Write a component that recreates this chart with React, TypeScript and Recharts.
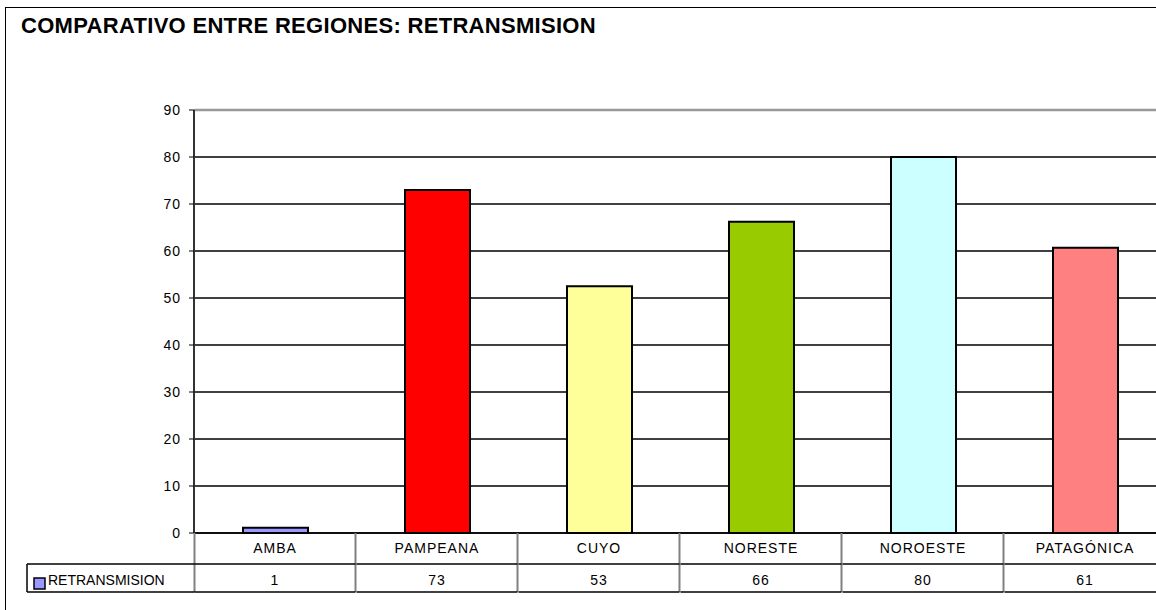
import { Bar, BarChart, CartesianGrid, Cell, ReferenceLine, XAxis, YAxis } from "recharts";

const regions = ["AMBA", "PAMPEANA", "CUYO", "NORESTE", "NOROESTE", "PATAGÓNICA"];
const retransmision = [1.1, 73, 52.5, 66.2, 80, 60.7];
const tableValues = ["1", "73", "53", "66", "80", "61"];
const yTicks = [0, 10, 20, 30, 40, 50, 60, 70, 80, 90];
const colors = ["#9999ff", "#ff0000", "#ffff99", "#99cc00", "#ccffff", "#ff8080"];
const seriesName = "RETRANSMISION";

const data = regions.map((region, i) => ({ region, value: retransmision[i] }));

const font = "'Liberation Sans', Arial, sans-serif";
const BAND = 161;

function TableTick({ x, y, index }: any) {
  const left = x - BAND / 2;
  const right = x + BAND / 2;
  return (
    <g>
      <line x1={right} y1={y} x2={right} y2={y + 59} stroke="#808080" strokeWidth={2} />
      {index === 0 && (
        <g>
          <line x1={left} y1={y} x2={left} y2={y + 59} stroke="#808080" strokeWidth={2} />
          <line x1={27} y1={y + 31} x2={left} y2={y + 31} stroke="#000" strokeWidth={1.5} />
          <line x1={27} y1={y + 59} x2={left} y2={y + 59} stroke="#000" strokeWidth={1.5} />
          <line x1={27} y1={y + 31} x2={27} y2={y + 59} stroke="#000" strokeWidth={1.5} />
          <rect x={34} y={y + 45} width={11} height={11} fill={colors[0]} stroke="#000" strokeWidth={1.5} />
          <text x={48} y={y + 52} fontSize={14} fontFamily={font} fill="#000">
            {seriesName}
          </text>
        </g>
      )}
      <line x1={left} y1={y + 31} x2={right} y2={y + 31} stroke="#000" strokeWidth={1.5} />
      <line x1={left} y1={y + 59} x2={right} y2={y + 59} stroke="#000" strokeWidth={1.5} />
      <text x={x} y={y + 20} textAnchor="middle" fontSize={14} fontFamily={font} letterSpacing={1} fill="#000">
        {regions[index]}
      </text>
      <text x={x} y={y + 52} textAnchor="middle" fontSize={14} fontFamily={font} letterSpacing={1} fill="#000">
        {tableValues[index]}
      </text>
    </g>
  );
}

export default function App() {
  return (
    <div style={{ position: "fixed", left: 0, top: 0, width: 1156, height: 610, overflow: "hidden", background: "#fff" }}>
      <div
        style={{
          position: "absolute",
          left: 5,
          top: 7,
          width: 1200,
          height: 640,
          border: "1.5px solid #000",
        }}
      />
      <div
        style={{
          position: "absolute",
          left: 21,
          top: 13,
          fontFamily: font,
          fontWeight: "bold",
          fontSize: 22,
          letterSpacing: 0.3,
          color: "#000",
          whiteSpace: "nowrap",
        }}
      >
        COMPARATIVO ENTRE REGIONES: RETRANSMISION
      </div>
      <div style={{ position: "absolute", left: 0, top: 0 }}>
        <BarChart width={1190} height={610} data={data} margin={{ top: 110, right: 24, bottom: 17, left: 134 }}>
          <CartesianGrid vertical={false} stroke="#000" strokeWidth={1.5} />
          <ReferenceLine y={90} stroke="#999" strokeWidth={2.5} />
          <XAxis
            dataKey="region"
            interval={0}
            height={60}
            tickSize={0}
            tickMargin={0}
            tickLine={false}
            axisLine={{ stroke: "#000", strokeWidth: 1.5 }}
            tick={<TableTick />}
          />
          <YAxis
            width={60}
            domain={[0, 90]}
            ticks={yTicks}
            interval={0}
            tickSize={5}
            tickMargin={8}
            axisLine={{ stroke: "#333", strokeWidth: 2 }}
            tickLine={{ stroke: "#000" }}
            tick={{ fill: "#000", fontSize: 14, fontFamily: font, letterSpacing: 1 }}
          />
          <Bar dataKey="value" barSize={65} stroke="#000" strokeWidth={2} isAnimationActive={false}>
            {data.map((_, i) => (
              <Cell key={`bar-${i}`} fill={colors[i]} />
            ))}
          </Bar>
        </BarChart>
      </div>
    </div>
  );
}
